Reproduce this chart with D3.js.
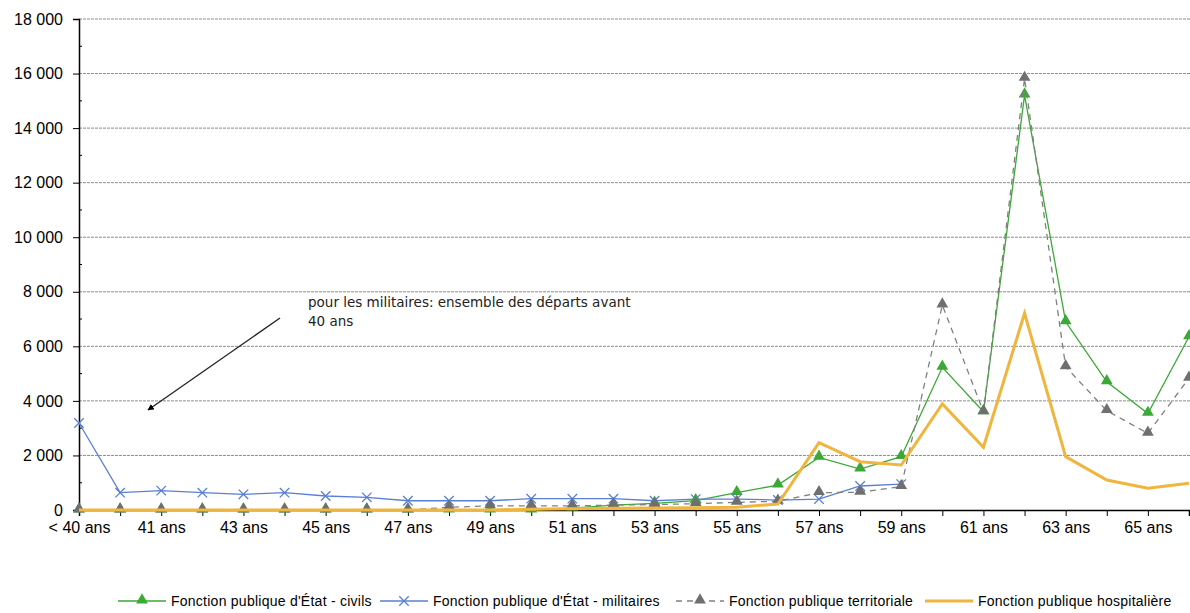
<!DOCTYPE html>
<html>
<head>
<meta charset="utf-8">
<script src="https://cdn.jsdelivr.net/npm/d3@7"></script>
<style>
  body { margin: 0; background: #fff; }
  svg { display: block; font-family: "Liberation Sans", Arial, sans-serif; }
</style>
</head>
<body>
<div id="chart"></div>
<script>
// categories (age at departure)
var ages = ["< 40 ans"];
for (var a = 40; a <= 66; a++) ages.push(a + " ans");

// series values
var civils = [0, 0, 0, 0, 0, 0, 0, 0, 0, 0, 0, 0, 70, 180, 245, 340, 635, 915, 1930, 1500, 1955, 5230, 3600, 15210, 6900, 4700, 3540, 6350];
var militaires = [3190, 635, 710, 635, 575, 635, 513, 465, 340, 340, 340, 415, 415, 415, 340, 400, 400, 365, 400, 880, 950];
var territoriale = [0, 0, 0, 0, 0, 0, 0, 0, 0, 100, 150, 150, 150, 180, 200, 230, 280, 320, 635, 650, 855, 7510, 3600, 15820, 5250, 3640, 2810, 4830];
var hospitaliere = [0, 0, 0, 0, 0, 0, 0, 0, 0, 0, 0, 30, 50, 60, 70, 80, 100, 220, 2470, 1770, 1650, 3890, 2300, 7210, 1955, 1100, 795, 980];

var yTicks = [0, 2000, 4000, 6000, 8000, 10000, 12000, 14000, 16000, 18000];

var legendNames = ["Fonction publique d'État - civils", "Fonction publique d'État - militaires",
                   "Fonction publique territoriale", "Fonction publique hospitalière"];

var width = 1190, height = 613;
var margin = {top: 19, right: 1, bottom: 103, left: 79};

var svg = d3.select("#chart").append("svg")
    .attr("width", width)
    .attr("height", height);

var x = d3.scalePoint()
    .domain(ages)
    .range([margin.left, width - margin.right]);

var y = d3.scaleLinear()
    .domain([0, 18000])
    .range([height - margin.bottom, margin.top]);

var fr = d3.formatLocale({decimal: ",", thousands: "\u00a0", grouping: [3], currency: ["", ""]});
var fmt = fr.format(",d");

// gridlines
svg.append("g")
  .selectAll("line")
  .data(yTicks.slice(1))
  .enter().append("line")
    .attr("x1", margin.left)
    .attr("x2", width)
    .attr("y1", function(d) { return y(d) })
    .attr("y2", function(d) { return y(d) })
    .attr("stroke", "#8c8c8c")
    .attr("stroke-width", 1)
    .attr("stroke-dasharray", "3,1");

// y axis
var yAxis = svg.append("g")
    .attr("transform", "translate(" + margin.left + ",0)")
    .call(d3.axisLeft(y).tickValues(yTicks).tickFormat(fmt).tickSize(6).tickPadding(10));
yAxis.select(".domain").attr("stroke", "#000").attr("stroke-width", 1.5);
yAxis.selectAll("text").style("font-size", "16px").attr("fill", "#000");

// minor ticks
svg.append("g")
  .selectAll("line")
  .data(d3.range(1000, 18000, 2000))
  .enter().append("line")
    .attr("x1", margin.left)
    .attr("x2", margin.left + 3)
    .attr("y1", function(d) { return y(d) })
    .attr("y2", function(d) { return y(d) })
    .attr("stroke", "#000");

// x axis
var xAxis = svg.append("g")
    .attr("transform", "translate(0," + y(0) + ")")
    .call(d3.axisBottom(x).tickSize(6).tickPadding(6).tickFormat(function(d, i) { return i % 2 == 0 ? d : "" }));
xAxis.select(".domain").attr("stroke", "#000").attr("stroke-width", 1.5);
xAxis.selectAll("text").style("font-size", "16px").attr("fill", "#000");

// annotation
svg.append("defs").append("marker")
    .attr("id", "arrow")
    .attr("viewBox", "0 -5 10 10")
    .attr("refX", 9)
    .attr("refY", 0)
    .attr("markerWidth", 5)
    .attr("markerHeight", 5)
    .attr("orient", "auto")
  .append("path")
    .attr("d", "M0,-5L10,0L0,5Z")
    .attr("fill", "#000");

svg.append("line")
    .attr("x1", 280).attr("y1", 318)
    .attr("x2", 148).attr("y2", 410)
    .attr("stroke", "#222")
    .attr("stroke-width", 1.3)
    .attr("marker-end", "url(#arrow)");

var note = svg.append("text")
    .attr("x", 308)
    .attr("y", 307)
    .style("font-family", "'DejaVu Sans', Verdana, sans-serif")
    .style("font-size", "13.5px")
    .attr("fill", "#222");
note.append("tspan").attr("x", 308).text("pour les militaires: ensemble des départs avant");
note.append("tspan").attr("x", 308).attr("dy", 19).text("40 ans");

// series
var series = [
  {name: legendNames[0], values: civils, color: "#3aa935", width: 1.3, dash: null, marker: "triangle", mcolor: "#3aa935"},
  {name: legendNames[1], values: militaires, color: "#5a7fd6", width: 1.3, dash: null, marker: "cross", mcolor: "#5a7fd6"},
  {name: legendNames[2], values: territoriale, color: "#808080", width: 1.3, dash: "6,5", marker: "triangle", mcolor: "#6f6f6f"},
  {name: legendNames[3], values: hospitaliere, color: "#f0b53e", width: 3, dash: null, marker: null, mcolor: null}
];

var line = d3.line()
    .x(function(d, i) { return x(ages[i]) })
    .y(function(d) { return y(d) });

var tri = d3.symbol().type(d3.symbolTriangle).size(60);
var cross = d3.symbol().type(d3.symbolX).size(60);

function drawMarker(g, s, cx, cy) {
  if (s.marker == "triangle") {
    g.append("path")
      .attr("d", tri())
      .attr("transform", "translate(" + cx + "," + (cy - 1) + ")")
      .attr("fill", s.mcolor);
  } else if (s.marker == "cross") {
    g.append("path")
      .attr("d", cross())
      .attr("transform", "translate(" + cx + "," + cy + ")")
      .attr("fill", "none")
      .attr("stroke", s.mcolor)
      .attr("stroke-width", 1.3);
  }
}

series.forEach(function(s) {
  var g = svg.append("g");
  g.append("path")
    .datum(s.values)
    .attr("d", line)
    .attr("fill", "none")
    .attr("stroke", s.color)
    .attr("stroke-width", s.width)
    .attr("stroke-dasharray", s.dash);
  s.values.forEach(function(v, i) {
    drawMarker(g, s, x(ages[i]), y(v));
  });
});

// legend
var legendX = [118, 380, 676, 925];
var legend = svg.append("g");
series.forEach(function(s, i) {
  var lg = legend.append("g").attr("transform", "translate(" + legendX[i] + ",601)");
  lg.append("line")
    .attr("x1", 0).attr("x2", 48)
    .attr("stroke", s.color)
    .attr("stroke-width", s.width)
    .attr("stroke-dasharray", s.dash);
  drawMarker(lg, s, 24, 0);
  lg.append("text")
    .attr("x", 53)
    .attr("y", 5)
    .style("font-size", "14px")
    .style("letter-spacing", "0.25px")
    .attr("fill", "#000")
    .text(s.name);
});
</script>
</body>
</html>
